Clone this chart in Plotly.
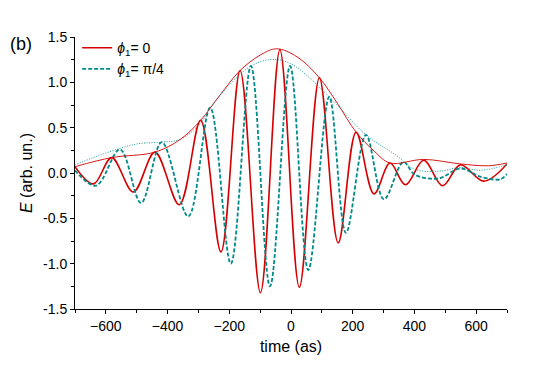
import plotly.graph_objects as go

# field for phi1 = 0 (extrema)
t_red = [-700, -640, -581, -511, -441, -362, -293, -227, -165, -99, -36, 27,
         92, 153, 211, 269, 321, 371, 430, 491, 549, 625, 700]
e_red = [0.07, -0.12, 0.17, -0.21, 0.23, -0.35, 0.58, -0.87, 1.13, -1.32, 1.36, -1.26,
         1.05, -0.77, 0.45, -0.23, 0.11, -0.13, 0.14, -0.14, 0.09, -0.09, 0.10]

# field for phi1 = pi/4
t_teal = [-700, -632, -554, -486, -419, -333, -262, -195, -130, -68, -3, 56,
          124, 178, 243, 301, 364, 402, 478, 549, 613, 678, 700]
e_teal = [0.03, -0.14, 0.26, -0.33, 0.34, -0.48, 0.72, -1.00, 1.18, -1.25, 1.18, -1.07,
          0.84, -0.66, 0.42, -0.29, 0.12, -0.02, -0.06, 0.05, -0.04, -0.07, -0.01]

# envelopes
t_env_red = [-700, -581, -441, -359, -293, -230, -165, -100, -46, 20, 92, 150,
             211, 270, 321, 430, 549, 640, 700]
e_env_red = [0.07, 0.17, 0.23, 0.37, 0.58, 0.86, 1.13, 1.30, 1.37, 1.28, 1.05, 0.77,
             0.45, 0.24, 0.11, 0.15, 0.10, 0.08, 0.11]

t_env_teal = [-700, -600, -500, -420, -360, -293, -262, -200, -130, -68, -3, 124,
              243, 339, 402, 480, 549, 613, 700]
e_env_teal = [0.09, 0.22, 0.32, 0.34, 0.37, 0.55, 0.72, 0.97, 1.18, 1.25, 1.21, 0.84,
              0.42, 0.20, 0.04, 0.02, 0.06, 0.03, 0.09]

red = "#d40000"
teal = "#008b8b"
font = "Liberation Sans, Arial, sans-serif"

fig = go.Figure()

fig.add_trace(go.Scatter(x=t_red, y=e_red, mode="lines", name="<i>ϕ</i><sub>1</sub>= 0",
                         line=dict(color=red, width=1.6, shape="spline")))
fig.add_trace(go.Scatter(x=t_teal, y=e_teal, mode="lines", name="<i>ϕ</i><sub>1</sub>= π/4",
                         line=dict(color=teal, width=1.8, dash="4px,2px", shape="spline")))
fig.add_trace(go.Scatter(x=t_env_red, y=e_env_red, mode="lines", showlegend=False,
                         line=dict(color=red, width=0.9, shape="spline")))
fig.add_trace(go.Scatter(x=t_env_teal, y=e_env_teal, mode="lines", showlegend=False,
                         line=dict(color=teal, width=0.9, dash="1px,1.5px", shape="spline")))

fig.add_annotation(text="(b)", xref="paper", yref="paper", x=-0.155, y=0.974,
                   xanchor="left", yanchor="middle", showarrow=False,
                   font=dict(size=18, color="black", family=font))

# page has an 8px body margin, so margins are shifted to keep the plot box in place
fig.update_layout(
    width=540, height=379,
    margin=dict(l=67, r=41, t=29, b=78),
    plot_bgcolor="white", paper_bgcolor="white",
    font=dict(family=font, size=14, color="black"),
    showlegend=True,
    legend=dict(x=0.005, y=1.018, xanchor="left", yanchor="top",
                bgcolor="rgba(0,0,0,0)", font=dict(size=14), tracegroupgap=0),
)

fig.update_xaxes(range=[-700, 700], tickvals=[-600, -400, -200, 0, 200, 400, 600],
                 ticks="outside", ticklen=4, tickcolor="black", showgrid=False,
                 zeroline=False, showline=True, linecolor="black", linewidth=1,
                 minor=dict(dtick=100, ticks="outside", ticklen=3, tickcolor="black"),
                 title=dict(text="time (as)", font=dict(size=16), standoff=8))
fig.update_yaxes(range=[-1.5, 1.5], tickvals=[-1.5, -1.0, -0.5, 0.0, 0.5, 1.0, 1.5],
                 ticktext=["-1.5", "-1.0", "-0.5", "0.0", "0.5", "1.0", "1.5"],
                 ticks="outside", ticklen=4, tickcolor="black", showgrid=False,
                 zeroline=False, showline=True, linecolor="black", linewidth=1,
                 minor=dict(dtick=0.25, ticks="outside", ticklen=3, tickcolor="black"),
                 title=dict(text="<i>E</i> (arb. un.)", font=dict(size=16), standoff=6))

fig.write_html("out.html")
